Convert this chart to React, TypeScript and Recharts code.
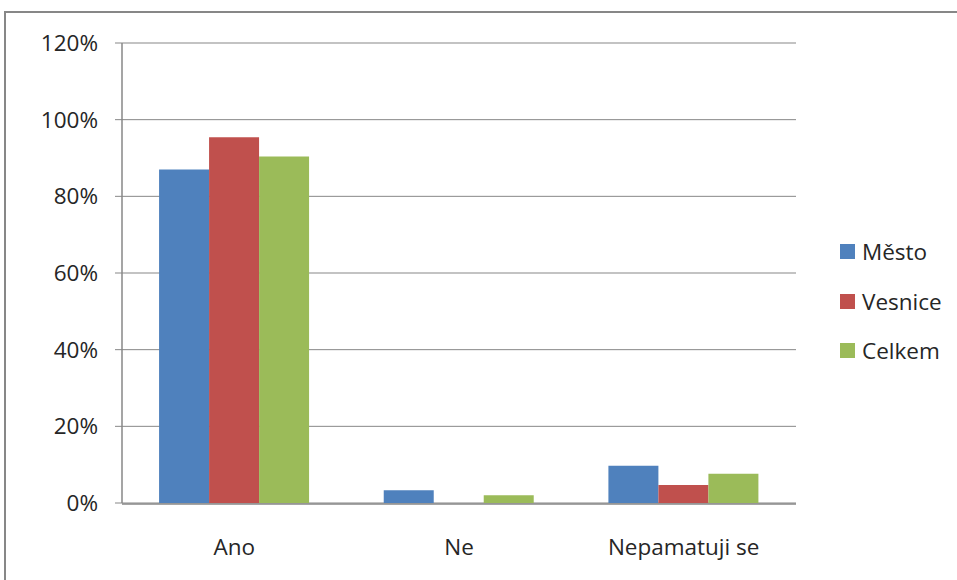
import React from "react";
import { BarChart, Bar, XAxis, YAxis, CartesianGrid, Legend } from "recharts";

const categories = ["Ano", "Ne", "Nepamatuji se"];
const mesto = [87.0, 3.3, 9.7];
const vesnice = [95.4, 0, 4.7];
const celkem = [90.4, 2.0, 7.6];
const yTicks = [0, 20, 40, 60, 80, 100, 120];
const boundaryTicks = [0, 1, 2, 3];

const seriesNames = ["Město", "Vesnice", "Celkem"];
const seriesColors = ["#4F81BD", "#C0504D", "#9BBB59"];

const data = categories.map((name, i) => ({
  name,
  mesto: mesto[i],
  vesnice: vesnice[i],
  celkem: celkem[i],
}));

const FONT = "'Open Sans', Lato, sans-serif";
const FS = 22.5;
const TEXT = "#262626";
const LINE = "#878787";

const LegendContent = () => (
  <div style={{ fontFamily: FONT, fontSize: FS, color: TEXT }}>
    {seriesNames.map((n, i) => (
      <div
        key={n}
        style={{ display: "flex", alignItems: "center", height: 49.5 }}
      >
        <div
          style={{
            width: 15,
            height: 15,
            background: seriesColors[i],
            marginRight: 7,
          }}
        />
        <span>{n}</span>
      </div>
    ))}
  </div>
);

export default function App() {
  return (
    <div
      style={{
        position: "absolute",
        left: 0,
        top: 0,
        width: 957,
        height: 580,
        overflow: "hidden",
        background: "#fff",
      }}
    >
      <div
        style={{
          position: "absolute",
          left: 4,
          top: 11,
          width: 1200,
          height: 1200,
          border: `2px solid ${LINE}`,
          boxSizing: "border-box",
        }}
      />
      <div style={{ position: "absolute", left: 0, top: 0 }}>
        <BarChart
          width={957}
          height={580}
          data={data}
          margin={{ top: 43, right: 161, bottom: 27, left: 0 }}
          barCategoryGap="16.5%"
          barGap={0}
        >
          <CartesianGrid
            vertical={false}
            stroke={LINE}
            strokeWidth={1}
            xAxisId="bound"
          />
          <XAxis
            xAxisId="bound"
            type="number"
            domain={[0, 3]}
            ticks={boundaryTicks}
            tick={false}
            axisLine={false}
            tickLine={{ stroke: LINE, strokeWidth: 1.5 }}
            tickSize={8}
            height={1}
            allowDataOverflow
          />
          <XAxis
            xAxisId="cat"
            dataKey="name"
            height={49}
            tickLine={false}
            tickSize={0}
            tickMargin={35}
            axisLine={{ stroke: LINE, strokeWidth: 1.5 }}
            tick={{ fill: TEXT, fontSize: FS, fontFamily: FONT }}
            interval={0}
          />
          <YAxis
            width={122}
            domain={[0, 120]}
            ticks={yTicks}
            interval={0}
            tickFormatter={(v) => `${v}%`}
            axisLine={{ stroke: LINE, strokeWidth: 1.5 }}
            tickLine={{ stroke: LINE }}
            tickSize={7}
            tickMargin={17}
            tick={{ fill: TEXT, fontSize: FS, fontFamily: FONT }}
          />
          <Legend
            layout="horizontal"
            verticalAlign="middle"
            align="center"
            content={LegendContent}
            wrapperStyle={{ left: 840, top: 227, width: 117 }}
          />
          <Bar xAxisId="cat" dataKey="mesto" name={seriesNames[0]} fill={seriesColors[0]} isAnimationActive={false} />
          <Bar xAxisId="cat" dataKey="vesnice" name={seriesNames[1]} fill={seriesColors[1]} isAnimationActive={false} />
          <Bar xAxisId="cat" dataKey="celkem" name={seriesNames[2]} fill={seriesColors[2]} isAnimationActive={false} />
        </BarChart>
      </div>
    </div>
  );
}
